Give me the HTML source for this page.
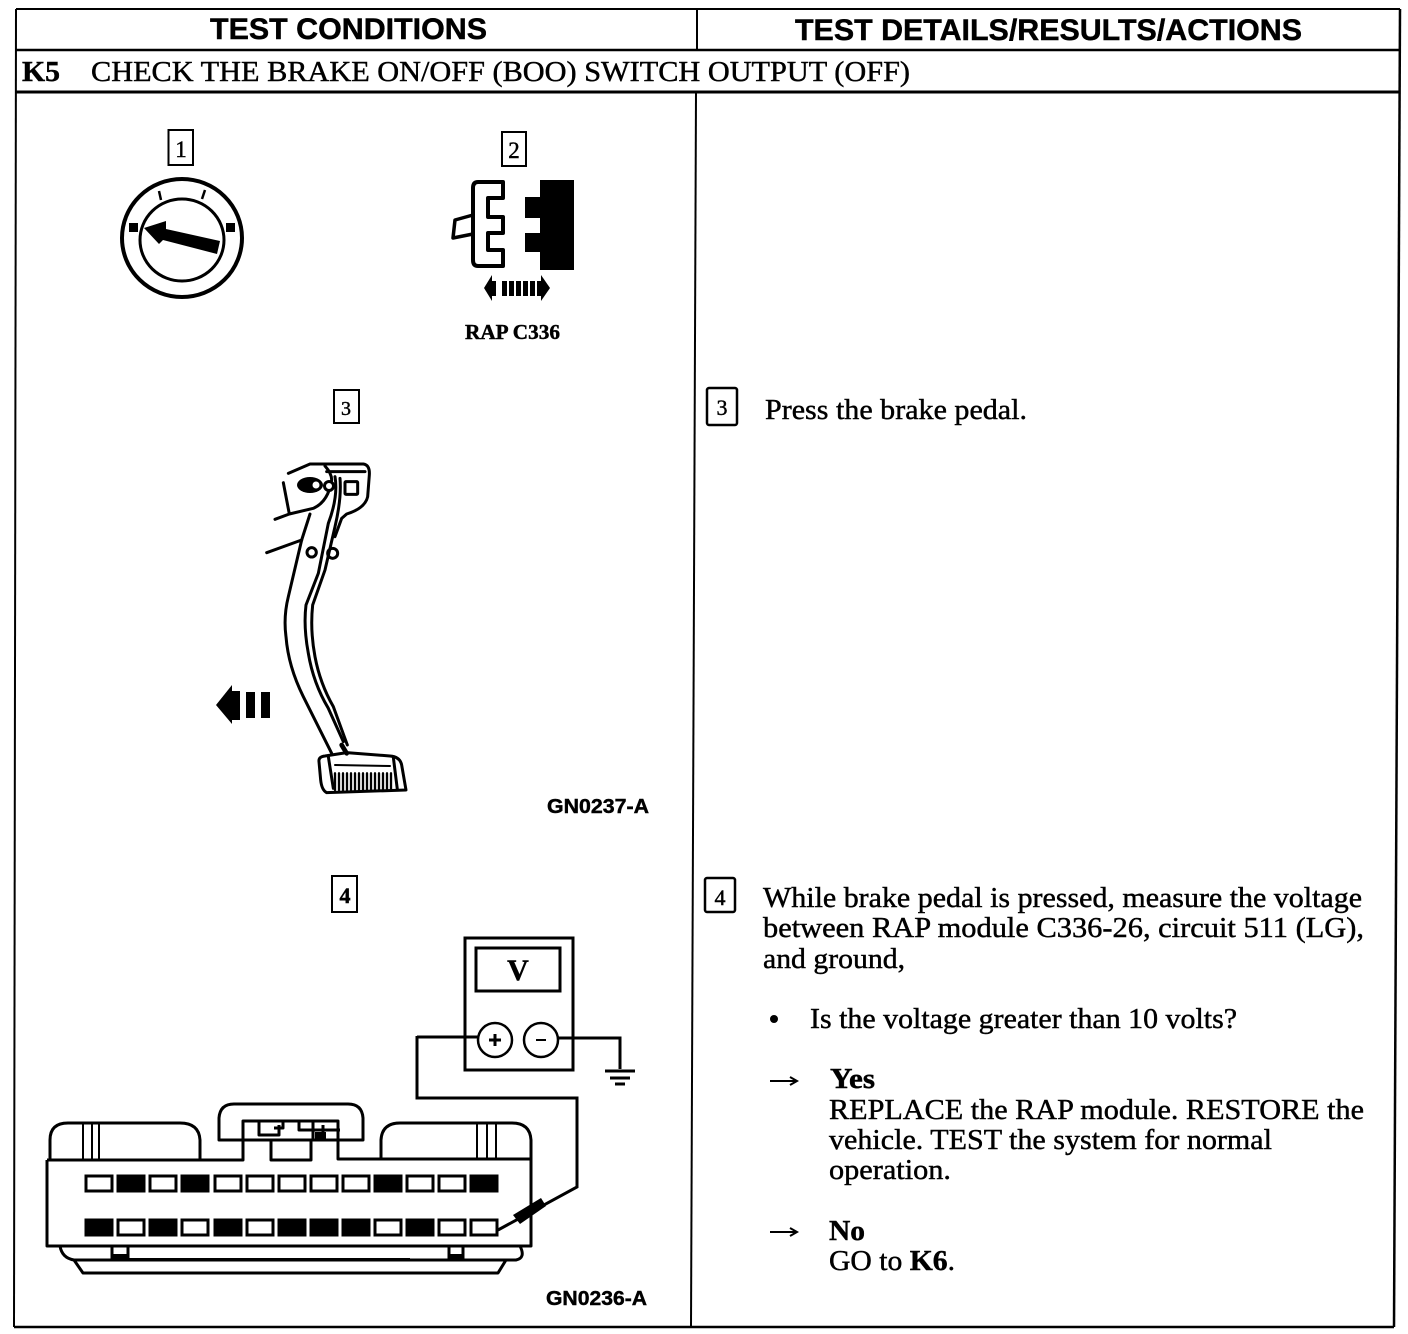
<!DOCTYPE html>
<html><head><meta charset="utf-8"><style>
html,body{margin:0;padding:0;background:#fff}
svg{display:block}
.s{font-family:"Liberation Serif",serif;fill:#000}
.h{font-family:"Liberation Sans",sans-serif;font-weight:bold;fill:#000}
text{stroke:#000;stroke-width:.45px}
</style></head><body>
<svg width="1408" height="1334" viewBox="0 0 1408 1334" xmlns="http://www.w3.org/2000/svg">
<g fill="none" stroke="#000">
<path d="M16 9H1400" stroke-width="2"/>
<path d="M16 9L14 1327" stroke-width="2"/>
<path d="M1400 9L1394 1327" stroke-width="2.5"/>
<path d="M697 9V50" stroke-width="2"/>
<path d="M696 92L691 1327" stroke-width="2"/>
<path d="M16 50H1400" stroke-width="2.5"/>
<path d="M15 92H1400" stroke-width="3"/>
<path d="M14 1327H1394" stroke-width="2.5"/>
</g>
<g class="h">
<text class="h" x="210" y="39" font-size="30" textLength="277" lengthAdjust="spacingAndGlyphs">TEST CONDITIONS</text>
<text class="h" x="795" y="40" font-size="30" textLength="507" lengthAdjust="spacingAndGlyphs">TEST DETAILS/RESULTS/ACTIONS</text>
</g>
<g class="s" font-size="29">
<text class="s" x="22" y="81" font-weight="bold" textLength="38" lengthAdjust="spacingAndGlyphs">K5</text>
<text class="s" x="91" y="81" textLength="819" lengthAdjust="spacingAndGlyphs">CHECK THE BRAKE ON/OFF (BOO) SWITCH OUTPUT (OFF)</text>
<text class="s" x="765" y="419" textLength="262" lengthAdjust="spacingAndGlyphs">Press the brake pedal.</text>
<text class="s" x="763" y="907" textLength="599" lengthAdjust="spacingAndGlyphs">While brake pedal is pressed, measure the voltage</text>
<text class="s" x="763" y="937" textLength="601" lengthAdjust="spacingAndGlyphs">between RAP module C336-26, circuit 511 (LG),</text>
<text class="s" x="763" y="968" textLength="142" lengthAdjust="spacingAndGlyphs">and ground,</text>
<text class="s" x="810" y="1028" textLength="427" lengthAdjust="spacingAndGlyphs">Is the voltage greater than 10 volts?</text>
<text class="s" x="830" y="1088" font-weight="bold" textLength="45" lengthAdjust="spacingAndGlyphs">Yes</text>
<text class="s" x="829" y="1119" textLength="535" lengthAdjust="spacingAndGlyphs">REPLACE the RAP module. RESTORE the</text>
<text class="s" x="829" y="1149" textLength="443" lengthAdjust="spacingAndGlyphs">vehicle. TEST the system for normal</text>
<text class="s" x="829" y="1179" textLength="122" lengthAdjust="spacingAndGlyphs">operation.</text>
<text class="s" x="829" y="1240" font-weight="bold" textLength="36" lengthAdjust="spacingAndGlyphs">No</text>
<text class="s" x="829" y="1270" textLength="126" lengthAdjust="spacingAndGlyphs">GO to <tspan font-weight="bold">K6</tspan>.</text>
<text class="s" x="465" y="339" font-size="21" font-weight="bold" textLength="95" lengthAdjust="spacingAndGlyphs">RAP C336</text>
</g>
<text class="h" x="547" y="813" font-size="20" textLength="102" lengthAdjust="spacingAndGlyphs">GN0237-A</text>
<text class="h" x="546" y="1305" font-size="20" textLength="101" lengthAdjust="spacingAndGlyphs">GN0236-A</text>
<circle cx="774" cy="1019" r="4"/>
<g fill="none" stroke="#000" stroke-width="2">
<path d="M770 1081H795M790 1077L797 1081L790 1085"/>
<path d="M770 1232H795M790 1228L797 1232L790 1236"/>
<rect x="168.500" y="130" width="24.500" height="35"/>
<rect x="502" y="132" width="24" height="34"/>
<rect x="334" y="390" width="25" height="33"/>
<rect x="332" y="876" width="25" height="36"/>
<rect x="707" y="388" width="30" height="37" rx="2" stroke-width="2.500"/>
<rect x="705" y="878" width="30" height="34" rx="2" stroke-width="2.500"/>
</g>
<g class="s" font-size="23" text-anchor="middle">
<text class="s" x="181" y="157">1</text>
<text class="s" x="514" y="158">2</text>
<text class="s" x="346" y="415" font-size="20">3</text>
<text class="s" x="345" y="903" font-weight="bold" font-size="22">4</text>
<text class="s" x="722" y="415" font-size="22">3</text>
<text class="s" x="720" y="905" font-size="22">4</text>
</g>

<!-- ignition dial -->
<g fill="none" stroke="#000">
<ellipse cx="182" cy="238" rx="60" ry="59" stroke-width="4"/>
<ellipse cx="182" cy="240" rx="42" ry="41" stroke-width="3"/>
<path d="M159 191L161 200M205 190L202 199" stroke-width="2.500"/>
</g>
<path d="M144 228L166 221L166 229L220 241L217 254L163 240L159 244Z"/>
<rect x="129" y="223" width="9" height="9"/>
<rect x="226" y="223" width="9" height="9"/>

<!-- connector -->
<g fill="none" stroke="#000" stroke-width="4" stroke-linejoin="round">
<path d="M478 182H503V198H488V217H503V233H488V250H503V266H478Q473 266 473 260V188Q473 182 478 182Z"/>
<path d="M473 215L455 220L453 238L473 234" stroke-width="3.500"/>
</g>
<path d="M540 180H574V270H540V252H525V233H540V218H525V197H540Z"/>
<path d="M484 288L492 275V301Z"/>
<rect x="490" y="281" width="6" height="15"/><rect x="502" y="281" width="5" height="15"/><rect x="509" y="281" width="5" height="15"/><rect x="516" y="281" width="5" height="15"/><rect x="523" y="281" width="5" height="15"/><rect x="530" y="281" width="5" height="15"/>
<path d="M550 288L541 275V301Z"/><rect x="537" y="281" width="5" height="15"/>

<!-- pedal -->
<g transform="translate(200 440) scale(.33333)" fill="none" stroke="#000" stroke-width="9" stroke-linejoin="round" stroke-linecap="round">
<path d="M265 100L330 72H490Q510 75 508 105L503 170Q495 205 440 222L425 235L405 290"/>
<path d="M250 128L268 222L225 238M268 222L340 205Q385 185 395 120Q395 100 375 78"/>
<path d="M380 95H495"/>
<path d="M330 222L305 300L265 470Q250 530 258 590Q265 680 310 770L395 940"/>
<path d="M200 338L305 300"/>
<path d="M405 110Q415 170 385 250L355 400L318 495Q310 560 325 640Q340 730 385 805L430 905"/>
<path d="M420 115Q425 175 405 260L375 390L338 495Q330 570 345 650Q360 730 400 800L442 915"/>
<rect x="435" y="125" width="38" height="38" rx="3"/>
<circle cx="335" cy="337" r="14"/>
<circle cx="398" cy="340" r="15"/>
<path d="M357 965Q355 950 375 948L440 938L570 948Q600 950 605 975L618 1050L380 1058Q365 1050 362 1020Z"/>
<path d="M385 950L400 1045M580 952L592 1048"/>
<path d="M405 975L570 978" stroke-width="6"/>
<path d="M405 1000V1050M417 1000V1050M429 1000V1050M441 1000V1050M453 1000V1050M465 1000V1050M477 1000V1050M489 1000V1050M501 1000V1050M513 1000V1050M525 1000V1050M537 1000V1050M549 1000V1050M561 1000V1050M573 1000V1050" stroke-width="7"/>
<path d="M425 915L440 940" stroke-width="14"/>
</g>
<ellipse cx="310" cy="485" rx="13" ry="8"/>
<circle cx="316" cy="485" r="3.500" fill="#fff"/>
<circle cx="329" cy="486" r="4.500" fill="#fff" stroke="#000" stroke-width="3"/>
<path d="M216 705L232 685V724Z"/>
<rect x="232" y="691" width="8" height="29"/>
<rect x="246" y="692" width="9" height="26"/>
<rect x="261" y="692" width="9" height="26"/>

<!-- meter -->
<g fill="none" stroke="#000">
<rect x="465" y="938" width="108" height="132" stroke-width="3"/>
<rect x="476" y="948" width="84" height="43" stroke-width="3"/>
<circle cx="495" cy="1040" r="17" stroke-width="2.500"/>
<circle cx="541" cy="1040" r="17" stroke-width="2.500"/>
<path d="M417 1037H478M558 1038H620V1069M417 1036V1098H577V1187L498 1230" stroke-width="3"/>
<path d="M605 1071H635M610 1078H630M615 1084H625" stroke-width="3"/>
<path d="M495 1034V1046M489 1040H501" stroke-width="3"/>
<path d="M536 1040H546" stroke-width="2"/>
</g>
<text class="s" x="518" y="980" font-size="30" font-weight="bold" text-anchor="middle">V</text>
<path d="M513 1215L541 1198L546 1206L520 1224Z"/>

<!-- module -->
<g fill="none" stroke="#000" stroke-width="3" stroke-linejoin="round">
<path d="M47 1160V1246H531V1160"/>
<path d="M47 1160H243V1121H338V1159H531"/>
<path d="M50 1160V1140Q50 1123 68 1123H180Q199 1123 200 1140V1160"/>
<path d="M381 1160V1140Q382 1123 400 1123H512Q530 1123 531 1140V1160"/>
<path d="M219 1140V1118Q220 1104 234 1104H348Q362 1104 363 1118V1140Z"/>
<path d="M271 1140V1160H311V1140"/>
<path d="M83 1123V1160M92 1123V1160M99 1123V1160M477 1123V1160M487 1123V1160M496 1123V1160" stroke-width="2"/>
<path d="M60 1246Q62 1258 74 1260H516Q526 1258 520 1246"/>
<path d="M74 1260L83 1273H498L506 1260" stroke-width="3"/>
<path d="M112 1246V1260M128 1246V1260M449 1246V1260M463 1246V1260"/>
<path d="M259 1121V1135H279V1125M259 1121H283V1128H274M299 1121V1130H340M313 1121V1140M323 1125V1140"/>
</g>
<path d="M112 1254H128V1261H112ZM449 1254H463V1261H449ZM315 1132H326V1141H315Z"/>
<path d="M128 1258H410V1261H128Z"/>
<g stroke="#000" stroke-width="3" fill="#fff">
<rect x="86" y="1176" width="26" height="15"/><rect x="118" y="1176" width="26" height="15" fill="#000"/><rect x="150" y="1176" width="26" height="15"/><rect x="182" y="1176" width="26" height="15" fill="#000"/><rect x="215" y="1176" width="26" height="15"/><rect x="247" y="1176" width="26" height="15"/><rect x="279" y="1176" width="26" height="15"/><rect x="311" y="1176" width="26" height="15"/><rect x="343" y="1176" width="26" height="15"/><rect x="375" y="1176" width="26" height="15" fill="#000"/><rect x="407" y="1176" width="26" height="15"/><rect x="439" y="1176" width="26" height="15"/><rect x="471" y="1176" width="26" height="15" fill="#000"/>
<rect x="86" y="1220" width="26" height="15" fill="#000"/><rect x="118" y="1220" width="26" height="15"/><rect x="150" y="1220" width="26" height="15" fill="#000"/><rect x="182" y="1220" width="26" height="15"/><rect x="215" y="1220" width="26" height="15" fill="#000"/><rect x="247" y="1220" width="26" height="15"/><rect x="279" y="1220" width="26" height="15" fill="#000"/><rect x="311" y="1220" width="26" height="15" fill="#000"/><rect x="343" y="1220" width="26" height="15" fill="#000"/><rect x="375" y="1220" width="26" height="15"/><rect x="407" y="1220" width="26" height="15" fill="#000"/><rect x="439" y="1220" width="26" height="15"/><rect x="471" y="1220" width="26" height="15"/>
</g>
</svg>
</body></html>
